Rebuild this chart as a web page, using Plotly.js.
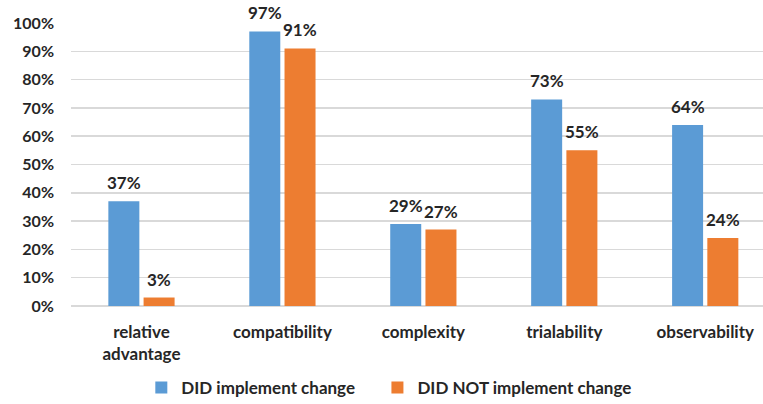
<!DOCTYPE html>
<html><head><meta charset="utf-8">
<script src="https://cdn.plot.ly/plotly-3.0.1.min.js"></script>
<style>html,body{margin:0;padding:0;background:#fff}#chart{width:763px;height:404px}</style>
</head><body><div id="chart"></div>
<script>
const categories = ["relative<br>advantage", "compatibility", "complexity", "trialability", "observability"];
const didImplement = [37, 97, 29, 73, 64];
const didNotImplement = [3, 91, 27, 55, 24];
const seriesNames = ["DID implement change", "DID NOT implement change"];
const yTickVals = [0,10,20,30,40,50,60,70,80,90,100];
const yTickText = yTickVals.map(v => v + "%");

const fam = "Lato, 'Open Sans', sans-serif";
const txt = "#262626";
const mk = (name, y, color) => ({
  type: "bar", name: name, x: [0,1,2,3,4], y: y,
  marker: {color: color}, hoverinfo: "none"
});
const data = [
  mk("<b>" + seriesNames[0] + "</b>\u00a0\u00a0\u00a0\u00a0", didImplement, "#5B9BD5"),
  mk("<b>" + seriesNames[1] + "</b>", didNotImplement, "#ED7D31")
];
const annotations = [];
[didImplement, didNotImplement].forEach((arr, s) => {
  arr.forEach((v, i) => annotations.push({
    x: i, y: v, xref: "x", yref: "y", text: "<b>" + v + "%</b>", showarrow: false,
    xshift: s === 0 ? -17.5 : 17.5, yanchor: "bottom", yshift: 6,
    font: {family: fam, size: 17, color: txt}
  }));
});
const layout = {
  width: 763, height: 404,
  margin: {l: 71, r: 0, t: 23, b: 98},
  paper_bgcolor: "#fff", plot_bgcolor: "#fff",
  barmode: "group", bargap: 0.5, bargroupgap: 0.12,
  font: {family: fam, size: 16, color: txt},
  annotations: annotations,
  xaxis: {
    range: [-0.5, 4.41], tickvals: [0,1,2,3,4],
    ticktext: categories.map(c => "<b>" + c.replace("<br>", "</b><br><b>") + "</b>"),
    showgrid: false, zeroline: false, showline: false, ticks: "", ticklabelstandoff: 14,
    tickfont: {family: fam, size: 17, color: txt}
  },
  yaxis: {
    range: [0, 100], tickvals: yTickVals, ticktext: yTickText.map(t => "<b>" + t + "</b>"),
    showgrid: true, gridcolor: "#d9d9d9", gridwidth: 1.5, zeroline: true, zerolinecolor: "#d9d9d9", zerolinewidth: 1.5,
    ticks: "", showline: false, automargin: false, ticklabelstandoff: 16,
    tickfont: {family: fam, size: 16, color: txt}
  },
  showlegend: true,
  legend: {orientation: "h", xref: "paper", x: 0.46, xanchor: "center",
    yref: "container", y: 0.04, yanchor: "middle",
    font: {family: fam, size: 17, color: txt}, traceorder: "normal"}
};
Plotly.newPlot("chart", data, layout, {displayModeBar: false, staticPlot: true});
</script></body></html>
